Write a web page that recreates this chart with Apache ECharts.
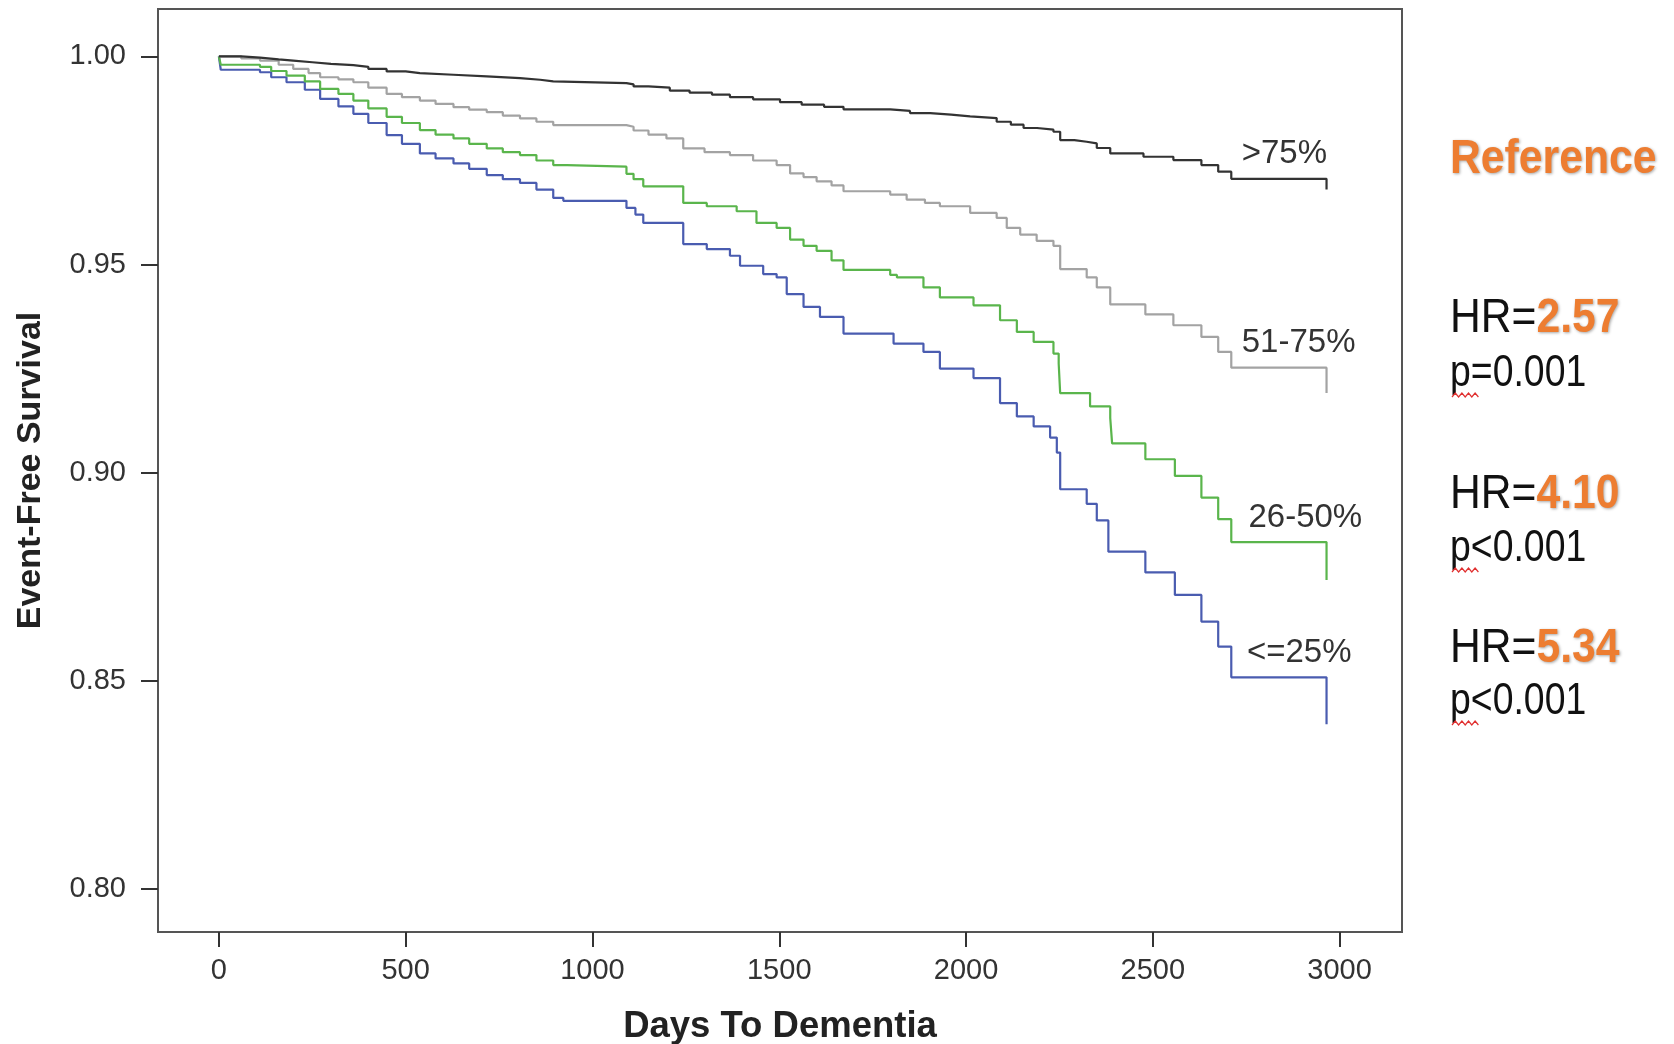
<!DOCTYPE html>
<html>
<head>
<meta charset="utf-8">
<script src="https://cdn.jsdelivr.net/npm/echarts@6/dist/echarts.min.js"></script>
<style>
  html, body { margin: 0; padding: 0; background: #fff; }
  #chart { width: 1674px; height: 1044px; }
</style>
</head>
<body>
<div id="chart"></div>
<script>
// ---------------- DATA ----------------
const groupLabels = ['>75%', '51-75%', '26-50%', '<=25%'];
const labelDays = [2738, 2738, 2756, 2752];
const xTicks = [0, 500, 1000, 1500, 2000, 2500, 3000];
const yTicks = [0.80, 0.85, 0.90, 0.95, 1.00];

const daysOver75 = [0, 60, 110, 160, 199, 250, 300, 360, 400, 449, 500, 538, 628, 717, 806, 860, 895, 1091, 1110, 1150, 1207, 1260, 1320, 1368, 1430, 1502, 1560, 1620, 1672, 1797, 1850, 1904, 1960, 2011, 2082, 2120, 2154, 2190, 2234, 2252, 2290, 2323, 2350, 2386, 2475, 2555, 2630, 2675, 2710, 2965];
const survOver75 = [1.0, 0.9997, 0.9993, 0.999, 0.9986, 0.9982, 0.9979, 0.9975, 0.997, 0.9964, 0.996, 0.9956, 0.9952, 0.9948, 0.9944, 0.994, 0.9936, 0.9933, 0.9928, 0.9925, 0.9918, 0.9913, 0.9908, 0.9902, 0.9897, 0.989, 0.9884, 0.9879, 0.9873, 0.9869, 0.9864, 0.986, 0.9856, 0.9852, 0.9843, 0.9836, 0.9828, 0.9824, 0.9819, 0.9799, 0.9795, 0.9791, 0.978, 0.9767, 0.9759, 0.9751, 0.9739, 0.9723, 0.9706, 0.968];

const days51to75 = [0, 60, 110, 160, 199, 240, 271, 320, 360, 400, 449, 490, 538, 580, 628, 670, 717, 760, 806, 850, 895, 1091, 1110, 1150, 1198, 1243, 1300, 1368, 1430, 1493, 1529, 1565, 1600, 1640, 1672, 1797, 1841, 1890, 1930, 2011, 2082, 2109, 2145, 2189, 2234, 2252, 2323, 2350, 2386, 2480, 2555, 2630, 2675, 2710, 2965];
const surv51to75 = [1.0, 0.9995, 0.999, 0.998, 0.997, 0.996, 0.995, 0.9945, 0.9938, 0.9925, 0.991, 0.9902, 0.9894, 0.9886, 0.9878, 0.9872, 0.9866, 0.9858, 0.9851, 0.9843, 0.9835, 0.9831, 0.9822, 0.9812, 0.9803, 0.9779, 0.977, 0.9763, 0.975, 0.9739, 0.9719, 0.971, 0.97, 0.969, 0.9676, 0.9668, 0.9656, 0.9648, 0.964, 0.9624, 0.9612, 0.9588, 0.9572, 0.9557, 0.9545, 0.9489, 0.9469, 0.9445, 0.9404, 0.938, 0.9354, 0.9326, 0.929, 0.9252, 0.9191];

const days26to50 = [0, 5, 110, 140, 181, 230, 271, 320, 360, 400, 449, 490, 538, 580, 628, 670, 717, 760, 806, 850, 895, 932, 1091, 1110, 1136, 1243, 1306, 1386, 1439, 1493, 1529, 1565, 1600, 1640, 1672, 1797, 1815, 1886, 1930, 2020, 2091, 2136, 2181, 2234, 2248, 2252, 2332, 2386, 2391, 2480, 2559, 2630, 2675, 2710, 2965];
const surv26to50 = [1.0, 0.998, 0.9975, 0.9965, 0.9954, 0.994, 0.9922, 0.991, 0.9894, 0.9875, 0.9855, 0.984, 0.9823, 0.9812, 0.9803, 0.979, 0.9779, 0.977, 0.9763, 0.975, 0.9739, 0.9735, 0.9718, 0.9705, 0.9688, 0.9648, 0.964, 0.9628, 0.96, 0.9588, 0.956, 0.9545, 0.9533, 0.951, 0.9487, 0.9475, 0.9469, 0.9445, 0.9421, 0.9402, 0.9366, 0.9338, 0.9314, 0.9286, 0.9262, 0.9191, 0.9159, 0.9131, 0.907, 0.9032, 0.8992, 0.894, 0.8888, 0.8833, 0.8742];

const daysLe25 = [0, 5, 110, 140, 181, 230, 271, 320, 360, 400, 449, 490, 538, 580, 628, 670, 717, 760, 806, 850, 895, 922, 1091, 1115, 1136, 1243, 1306, 1368, 1395, 1457, 1493, 1520, 1565, 1609, 1672, 1806, 1886, 1930, 2020, 2091, 2136, 2181, 2225, 2243, 2252, 2323, 2350, 2381, 2480, 2559, 2630, 2675, 2710, 2965];
const survLe25 = [1.0, 0.9968, 0.9962, 0.995, 0.9938, 0.992, 0.9898, 0.988, 0.9862, 0.984, 0.9811, 0.979, 0.9767, 0.9755, 0.9743, 0.973, 0.9715, 0.9705, 0.9696, 0.968, 0.966, 0.9653, 0.9636, 0.962, 0.96, 0.9549, 0.9537, 0.9521, 0.9497, 0.9477, 0.9469, 0.9429, 0.9398, 0.9374, 0.9334, 0.931, 0.929, 0.925, 0.9227, 0.9167, 0.9135, 0.9111, 0.9084, 0.9048, 0.896, 0.8925, 0.8885, 0.881, 0.876, 0.8706, 0.8642, 0.8582, 0.8508, 0.8395];

const hrValues = ['2.57', '4.10', '5.34'];
const pValues = ['p=0.001', 'p<0.001', 'p<0.001'];
const refLabel = 'Reference';

// ---------------- STYLE ----------------
const FONT = "'Liberation Sans', Arial, Helvetica, sans-serif";
const ORANGE = '#ED7D31';
const colors = ['#333333', '#a3a3a3', '#5ab54c', '#4a5cb0'];

const groups = [
  [daysOver75, survOver75],
  [days51to75, surv51to75],
  [days26to50, surv26to50],
  [daysLe25, survLe25]
];

const chart = echarts.init(document.getElementById('chart'), null, { renderer: 'canvas' });

const series = groups.map((g, i) => ({
  name: groupLabels[i],
  type: 'line',
  step: 'end',
  showSymbol: false,
  symbol: 'none',
  silent: true,
  z: 10 - i,
  lineStyle: { color: colors[i], width: 2.2 },
  data: g[0].map((d, k) => [d, g[1][k]])
}));

chart.setOption({
  animation: false,
  backgroundColor: '#ffffff',
  grid: {
    left: 158, top: 9, right: 272, bottom: 112,
    containLabel: false,
    outerBoundsMode: 'none',
    show: true, borderColor: '#555', borderWidth: 2,
    backgroundColor: 'transparent'
  },
  xAxis: {
    type: 'value',
    min: -163, max: 3167,
    name: 'Days To Dementia',
    nameLocation: 'middle',
    nameGap: 76,
    nameTextStyle: { fontFamily: FONT, fontSize: 36.5, fontWeight: 'bold', color: '#222' },
    axisLine: { show: false, onZero: false },
    splitLine: { show: false },
    axisTick: { show: true, length: 15, customValues: xTicks, lineStyle: { color: '#333', width: 2 } },
    axisLabel: { show: true, customValues: xTicks, margin: 24, fontFamily: FONT, fontSize: 29, color: '#333',
      formatter: v => String(v) }
  },
  yAxis: {
    type: 'value',
    min: 0.7896, max: 1.0114,
    name: 'Event-Free Survival',
    nameLocation: 'middle',
    nameGap: 110,
    nameTextStyle: { fontFamily: FONT, fontSize: 34, fontWeight: 'bold', color: '#222' },
    axisLine: { show: false, onZero: false },
    splitLine: { show: false },
    axisTick: { show: true, length: 17, customValues: yTicks, lineStyle: { color: '#333', width: 2 } },
    axisLabel: { show: true, customValues: yTicks, margin: 32, fontFamily: FONT, fontSize: 29, color: '#333',
      formatter: v => Number(v).toFixed(2) }
  },
  series: series
});

// ---------- annotations ----------
const graphics = [];
// curve labels placed via the axes' own scale
groups.forEach((g, i) => {
  const s = g[1];
  const flat = s[s.length - 2];
  const p = chart.convertToPixel({ gridIndex: 0 }, [labelDays[i], flat]);
  graphics.push({
    type: 'text', x: p[0], y: p[1] - 8, silent: true,
    style: { text: groupLabels[i], font: '33px ' + FONT, fill: '#333', align: 'left', verticalAlign: 'bottom' }
  });
});

// right panel texts
const shadow = { textShadowColor: 'rgba(0,0,0,0.35)', textShadowBlur: 3, textShadowOffsetX: 1, textShadowOffsetY: 1 };
graphics.push({
  type: 'text', x: 1450, y: 160, scaleX: 0.89, silent: true,
  style: Object.assign({ text: refLabel, font: 'bold 48px ' + FONT, fill: ORANGE, align: 'left', verticalAlign: 'middle' }, shadow)
});
const hrY = [318, 494, 648];
const pY = [374, 549, 702];
hrValues.forEach((hr, i) => {
  graphics.push({
    type: 'text', x: 1450, y: hrY[i], scaleX: 0.87, silent: true,
    style: {
      text: '{a|HR=}{b|' + hr + '}', align: 'left', verticalAlign: 'middle',
      rich: {
        a: { fontFamily: FONT, fontSize: 49, fill: '#111' },
        b: Object.assign({ fontFamily: FONT, fontSize: 49, fontWeight: 'bold', fill: ORANGE }, shadow)
      }
    }
  });
  graphics.push({
    type: 'text', x: 1450, y: pY[i], scaleX: 0.85, silent: true,
    style: { text: pValues[i], font: '44px ' + FONT, fill: '#111', align: 'left', verticalAlign: 'middle' }
  });
  // red spell-check squiggle under "p"
  const pts = [];
  for (let k = 0; k <= 8; k++) pts.push([1452 + k * 3.3, pY[i] + 21 + (k % 2 ? -2 : 2)]);
  graphics.push({
    type: 'polyline', silent: true, shape: { points: pts },
    style: { stroke: '#e03030', lineWidth: 1.2, fill: null }
  });
});

chart.setOption({ graphic: graphics });
</script>
</body>
</html>
